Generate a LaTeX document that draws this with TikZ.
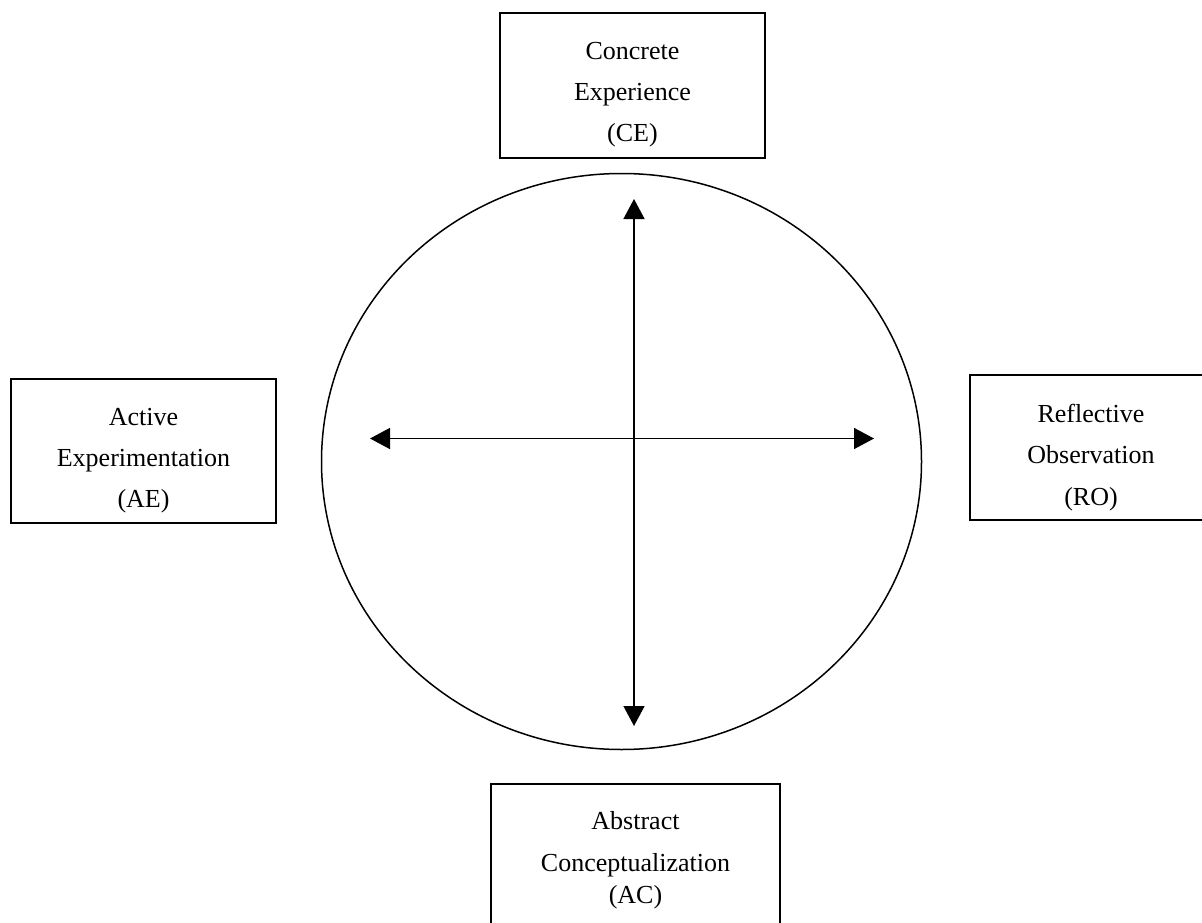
\documentclass[tikz,border=0pt]{standalone}
\usepackage{fontspec}
\setmainfont{Liberation Serif}
\usetikzlibrary{arrows.meta,shapes.geometric}
\begin{document}
\begin{tikzpicture}[x=1pt,y=-1pt,
  stagebox/.style={draw, line width=1.6pt, rectangle, inner sep=0pt},
  linetxt/.style={font=\fontsize{26}{31}\selectfont, anchor=base, inner sep=0pt},
  axis/.style={line width=1.5pt, {Triangle[length=20pt,width=21pt]}-{Triangle[length=20pt,width=21pt]}}]
\useasboundingbox (0,0) rectangle (1202,923);
\fill[white] (0,0) rectangle (1202,923);
% cycle
\node[draw, ellipse, line width=1.5pt, minimum width=600pt, minimum height=576pt, inner sep=0pt] (cyc) at (621.5,461.5) {};
% stage boxes
\node[stagebox, minimum width=265pt, minimum height=145pt] (ce) at (632.5,85.5) {};
\node[stagebox, minimum width=265pt, minimum height=144pt] (ae) at (143.5,451) {};
\node[stagebox, minimum width=242pt, minimum height=145pt] (ro) at (1091,447.5) {};
\node[stagebox, minimum width=289pt, minimum height=145pt] (ac) at (635.5,856.5) {};
% texts
\node[linetxt] (ce1) at (632.5,60) {Concrete};
\node[linetxt] (ce2) at (632.5,101) {Experience};
\node[linetxt] (ce3) at (632.5,142) {(CE)};
\node[linetxt] (ae1) at (143.5,425) {Active};
\node[linetxt] (ae2) at (143.5,466) {Experimentation};
\node[linetxt] (ae3) at (143.5,507) {(AE)};
\node[linetxt] (ro1) at (1091,422) {Reflective};
\node[linetxt] (ro2) at (1091,463) {Observation};
\node[linetxt] (ro3) at (1091,505) {(RO)};
\node[linetxt] (ac1) at (635.5,829) {Abstract};
\node[linetxt] (ac2) at (635.5,871) {Conceptualization};
\node[linetxt] (ac3) at (635.5,903) {(AC)};
% axes
\coordinate (tn) at (634,199);
\coordinate (ts) at (634,726);
\coordinate (tw) at (370,438.5);
\coordinate (te) at (874,438.5);
\draw[axis] (tn) -- (ts);
\draw[axis] (tw) -- (te);
\end{tikzpicture}
\end{document}
